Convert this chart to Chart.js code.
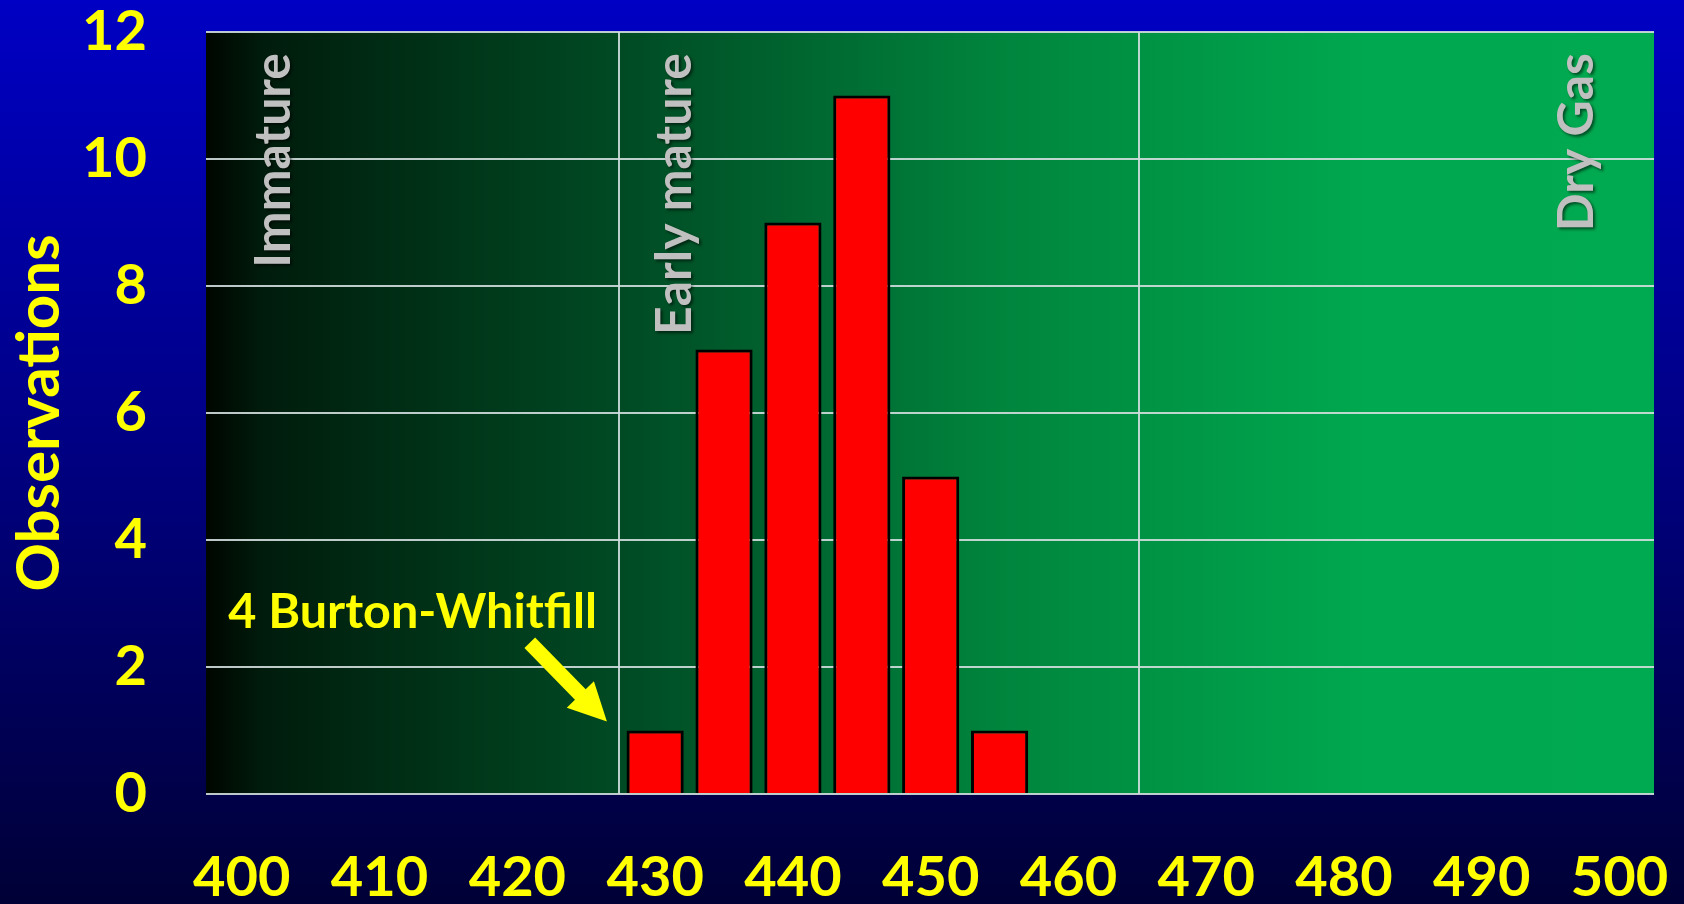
<!DOCTYPE html>
<html>
<head>
<meta charset="utf-8">
<script src="https://cdn.jsdelivr.net/npm/chart.js@4.4.1/dist/chart.umd.min.js"></script>
<style>
  html, body { margin: 0; padding: 0; background: #000060; overflow: hidden; }
  #wrap { width: 1684px; height: 904px; }
</style>
</head>
<body>
<div id="wrap"><canvas id="c" width="1684" height="904"></canvas></div>
<script>
// Tmax histogram (°C), 5-degree bins
const tmaxBins = [430, 435, 440, 445, 450, 455];
const observations = [1, 7, 9, 11, 5, 1];

// Axis tick labels
const xTickValues = [400, 410, 420, 430, 440, 450, 460, 470, 480, 490, 500];
const yTickValues = [0, 2, 4, 6, 8, 10, 12];

// Maturity zones: boundaries and labels
const zoneBoundaries = [427.4, 465.1];
const zoneLabels = ['Immature', 'Early mature', 'Dry Gas'];
const zoneLabelTmax = [403.5, 432.6, 498.1];

// Callout text
const calloutText = '4 Burton-Whitfill';

const YELLOW = '#FFFF00';
const GRID = 'rgba(210,222,222,0.9)';
const FONT = 'Lato';

// Keep the plot box fixed: no extra room for overhanging tick labels
function noOverhang(s) {
  s.paddingTop = 0;
  s.paddingBottom = 0;
  s.paddingLeft = 0;
  s.paddingRight = 0;
}

// Page and plot-area backgrounds
const backdrop = {
  id: 'backdrop',
  beforeDraw(chart) {
    const { ctx, width, height, chartArea: a } = chart;
    ctx.save();
    let g = ctx.createLinearGradient(0, 0, 0, height);
    g.addColorStop(0, '#0000C4');
    g.addColorStop(0.5, '#000082');
    g.addColorStop(1, '#000036');
    ctx.fillStyle = g;
    ctx.fillRect(0, 0, width, height);

    g = ctx.createLinearGradient(a.left, 0, a.right, 0);
    g.addColorStop(0, '#000600');
    g.addColorStop(0.04, '#001c0c');
    g.addColorStop(0.3, '#004d25');
    g.addColorStop(0.55, '#00853d');
    g.addColorStop(0.8, '#00a84f');
    g.addColorStop(1, '#00aa50');
    ctx.fillStyle = g;
    ctx.fillRect(a.left, a.top, a.right - a.left, a.bottom - a.top);
    ctx.restore();
  }
};

// Zone boundary lines and rotated zone names
const zones = {
  id: 'zones',
  beforeDatasetsDraw(chart) {
    const { ctx, chartArea: a, scales: { x } } = chart;
    ctx.save();
    ctx.strokeStyle = GRID;
    ctx.lineWidth = 2;
    zoneBoundaries.forEach(v => {
      const px = Math.round(x.getPixelForValue(v));
      ctx.beginPath();
      ctx.moveTo(px, a.top);
      ctx.lineTo(px, a.bottom);
      ctx.stroke();
    });
    ctx.font = `bold 50px ${FONT}`;
    ctx.fillStyle = '#C0C0C0';
    ctx.textAlign = 'right';
    ctx.textBaseline = 'alphabetic';
    ctx.shadowColor = 'rgba(0,0,0,0.55)';
    ctx.shadowOffsetX = 2;
    ctx.shadowOffsetY = 2;
    ctx.shadowBlur = 3;
    zoneLabels.forEach((t, i) => {
      ctx.save();
      ctx.translate(x.getPixelForValue(zoneLabelTmax[i]), a.top + 21);
      ctx.rotate(-Math.PI / 2);
      ctx.fillText(t, 0, 0);
      ctx.restore();
    });
    ctx.restore();
  }
};

// Callout label with arrow pointing at the first bin
const callout = {
  id: 'callout',
  afterDatasetsDraw(chart) {
    const { ctx, scales: { x, y } } = chart;
    ctx.save();
    ctx.fillStyle = YELLOW;
    ctx.font = `bold 48.5px ${FONT}`;
    ctx.textAlign = 'center';
    ctx.textBaseline = 'alphabetic';
    ctx.fillText(calloutText, x.getPixelForValue(412.4), y.getPixelForValue(2.61));

    const x0 = x.getPixelForValue(420.9), y0 = y.getPixelForValue(2.38);
    const x1 = x.getPixelForValue(426.5), y1 = y.getPixelForValue(1.14);
    const len = Math.hypot(x1 - x0, y1 - y0);
    const ux = (x1 - x0) / len, uy = (y1 - y0) / len;
    const nx = -uy, ny = ux;
    const sw = 7.5, hw = 19, hl = 38;
    const bx = x1 - ux * hl, by = y1 - uy * hl;
    ctx.beginPath();
    ctx.moveTo(x0 + nx * sw, y0 + ny * sw);
    ctx.lineTo(bx + nx * sw, by + ny * sw);
    ctx.lineTo(bx + nx * hw, by + ny * hw);
    ctx.lineTo(x1, y1);
    ctx.lineTo(bx - nx * hw, by - ny * hw);
    ctx.lineTo(bx - nx * sw, by - ny * sw);
    ctx.lineTo(x0 - nx * sw, y0 - ny * sw);
    ctx.closePath();
    ctx.fill();
    ctx.restore();
  }
};

new Chart(document.getElementById('c').getContext('2d'), {
  type: 'bar',
  data: {
    datasets: [{
      data: tmaxBins.map((t, i) => ({ x: t, y: observations[i] })),
      backgroundColor: '#FF0000',
      borderColor: '#000000',
      borderWidth: 3,
      barPercentage: 0.83,
      categoryPercentage: 1
    }]
  },
  options: {
    responsive: false,
    animation: false,
    layout: { padding: { top: 32, right: 30, left: 0, bottom: 0 } },
    plugins: { legend: { display: false }, tooltip: { enabled: false } },
    scales: {
      x: {
        type: 'linear',
        offset: false,
        min: 397.4,
        max: 502.5,
        afterBuildTicks: s => { s.ticks = xTickValues.map(v => ({ value: v })); },
        afterFit: s => { s.height = 110; noOverhang(s); },
        grid: { display: false, drawTicks: false },
        border: { display: false },
        ticks: {
          color: YELLOW,
          font: { family: FONT, weight: 'bold', size: 56 },
          padding: 50,
          maxRotation: 0,
          autoSkip: false
        }
      },
      y: {
        min: 0,
        max: 12,
        afterBuildTicks: s => { s.ticks = yTickValues.map(v => ({ value: v })); },
        afterFit: s => { s.width = 206; noOverhang(s); },
        grid: { color: GRID, lineWidth: 2, drawTicks: false },
        border: { display: false },
        ticks: {
          color: YELLOW,
          font: { family: FONT, weight: 'bold', size: 56 },
          padding: 59
        },
        title: {
          display: true,
          text: 'Observations',
          color: YELLOW,
          font: { family: FONT, weight: 'bold', size: 60 },
          padding: { top: 4, bottom: 0 }
        }
      }
    }
  },
  plugins: [backdrop, zones, callout]
});
</script>
</body>
</html>
